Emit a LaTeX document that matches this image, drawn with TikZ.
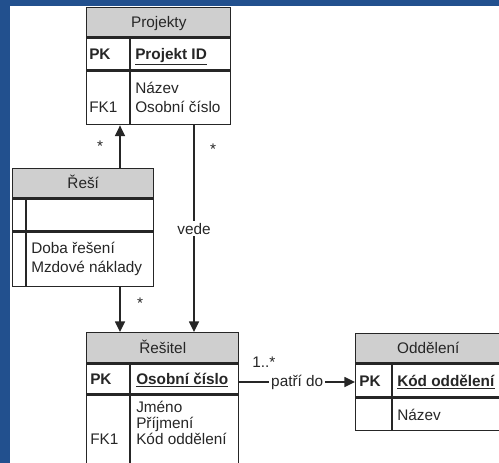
\documentclass[tikz,border=0pt]{standalone}
\usepackage{fontspec}
\setmainfont{Liberation Sans}
\usepackage{tikz}
\usetikzlibrary{arrows.meta,positioning,calc}
\definecolor{frame}{HTML}{22508E}
\definecolor{ink}{HTML}{262626}
\definecolor{head}{HTML}{CFCFCF}
\newcommand{\keyname}[1]{\underline{\textbf{#1}}}
\tikzset{hdr/.style={draw=ink,fill=head,line width=1.1pt,inner sep=0pt,anchor=north west,text height=9pt,text depth=1pt,text=ink},
cell/.style={draw=ink,fill=white,line width=1.1pt,inner sep=0pt,anchor=north west},
txt/.style={inner sep=0pt,anchor=west,text height=9pt,text depth=1pt,text=ink},
mult/.style={inner sep=0pt,anchor=base,text=ink},
lbl/.style={fill=white,inner sep=1.5pt,text=ink},
sep/.style={line width=1.1pt,draw=ink},
arr/.style={-{Triangle[length=8pt,width=7.5pt]},line width=1.1pt,draw=ink}}

\begin{document}
\begin{tikzpicture}[x=0.75pt,y=-0.75pt,font=\fontsize{11.5}{14}\selectfont]
\clip (0,0) rectangle (499,463);
\fill[frame] (0,0) rectangle (499,463);
\fill[white] (10,6) rectangle (499,463);

\node[hdr,minimum width=108pt,minimum height=21.75pt] (projH) at (86,7) {Projekty};
\node[cell,minimum width=108pt,minimum height=24pt] (projK) at (projH.south west) {};
\node[cell,minimum width=108pt,minimum height=39.75pt] (projB) at (projK.south west) {};
\draw[sep] ($(projK.north west)+(44,0)$) -- ($(projB.south west)+(44,0)$);
\node[txt] (projPK) at ($(projK.west)+(3,0)$) {\textbf{PK}};
\node[txt] (projID) at ($(projK.west)+(49,0)$) {\keyname{Projekt ID}};
\node[txt] (projA1) at (135,88) {Název};
\node[txt] (projA2) at (135,107) {Osobní číslo};
\node[txt] (projF1) at (89,107) {FK1};

\node[hdr,minimum width=105.75pt,minimum height=21.75pt] (resiH) at (12,168) {Řeší};
\node[cell,minimum width=105.75pt,minimum height=24pt] (resiK) at (resiH.south west) {};
\node[cell,minimum width=105.75pt,minimum height=40.5pt] (resiB) at (resiK.south west) {};
\draw[sep] ($(resiK.north west)+(14,0)$) -- ($(resiB.south west)+(14,0)$);
\node[txt] (resiA1) at (31,248) {Doba řešení};
\node[txt] (resiA2) at (31,267) {Mzdové náklady};

\node[hdr,minimum width=114pt,minimum height=22.5pt] (resitH) at (86,332) {Řešitel};
\node[cell,minimum width=114pt,minimum height=22.5pt] (resitK) at (resitH.south west) {};
\node[cell,minimum width=114pt,minimum height=66pt] (resitB) at (resitK.south west) {};
\draw[sep] ($(resitK.north west)+(44,0)$) -- ($(resitB.south west)+(44,0)$);
\node[txt] (resitPK) at ($(resitK.west)+(4,0)$) {\textbf{PK}};
\node[txt] (resitID) at ($(resitK.west)+(50,0)$) {\keyname{Osobní číslo}};
\node[txt] (resitA1) at (136,407) {Jméno};
\node[txt] (resitA2) at (136,423) {Příjmení};
\node[txt] (resitA3) at (136,439) {Kód oddělení};
\node[txt] (resitF1) at (90,439) {FK1};

\node[hdr,minimum width=108.75pt,minimum height=21.75pt] (oddH) at (355,333) {Oddělení};
\node[cell,minimum width=108.75pt,minimum height=24.75pt] (oddK) at (oddH.south west) {};
\node[cell,minimum width=108.75pt,minimum height=24pt] (oddB) at (oddK.south west) {};
\draw[sep] ($(oddK.north west)+(37,0)$) -- ($(oddB.south west)+(37,0)$);
\node[txt] (oddPK) at ($(oddK.west)+(4,0)$) {\textbf{PK}};
\node[txt] (oddID) at ($(oddK.west)+(42,0)$) {\keyname{Kód oddělení}};
\node[txt] (oddA1) at ($(oddB.west)+(42,0)$) {Název};

\coordinate (c1) at (120,0);
\coordinate (c2) at (194,0);
\coordinate (c3) at (0,382);
\draw[arr] (resiH.north -| c1) -- (projB.south -| c1);
\draw[arr] (resiB.south -| c1) -- (resitH.north -| c1);
\draw[arr] (projB.south -| c2) -- node[lbl] (vede) {vede} (resitH.north -| c2);
\draw[arr] (resitK.east |- c3) -- node[lbl] (patri) {patří do} (oddK.west |- c3);

\node[mult] (m1) at (100,152) {*};
\node[mult] (m2) at (213,155) {*};
\node[mult] (m3) at (140,308) {*};
\node[mult,anchor=base west] (m4) at (252,367) {1..*};
\end{tikzpicture}
\end{document}
